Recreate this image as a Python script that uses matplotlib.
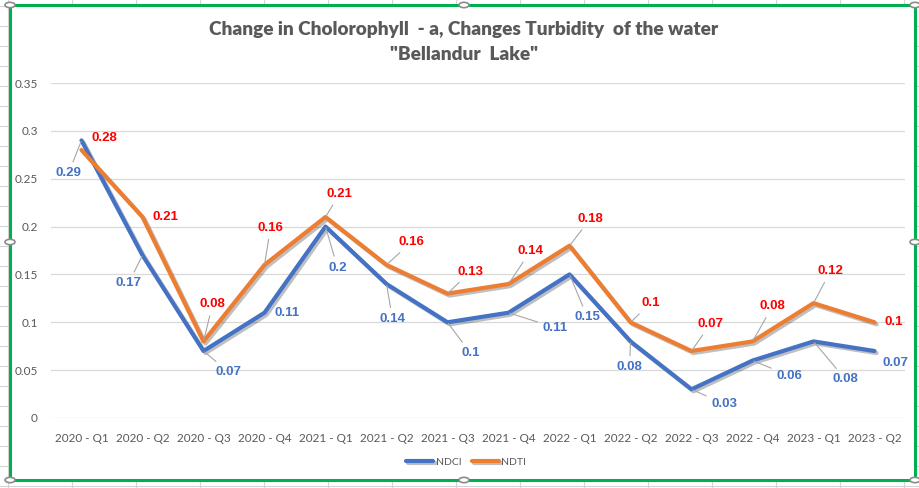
import matplotlib.pyplot as plt
import matplotlib.patheffects as pe
from matplotlib.patches import Rectangle, Circle

quarters = ['2020 - Q1', '2020 - Q2', '2020 - Q3', '2020 - Q4',
            '2021 - Q1', '2021 - Q2', '2021 - Q3', '2021 - Q4',
            '2022 - Q1', '2022 - Q2', '2022 - Q3', '2022 - Q4',
            '2023 - Q1', '2023 - Q2']
ndci = [0.29, 0.17, 0.07, 0.11, 0.2, 0.14, 0.1, 0.11, 0.15, 0.08, 0.03, 0.06, 0.08, 0.07]
ndti = [0.28, 0.21, 0.08, 0.16, 0.21, 0.16, 0.13, 0.14, 0.18, 0.1, 0.07, 0.08, 0.12, 0.1]
yticks = [0, 0.05, 0.1, 0.15, 0.2, 0.25, 0.3, 0.35]
title = 'Change in Cholorophyll  - a, Changes Turbidity  of the water\n"Bellandur  Lake"'

# label offsets in pixels (dx, dy), y up
ndci_off = [(-13, -33), (-14, -28), (25, -21), (23, 0), (12, -41), (6, -35),
            (23, -31), (47, -15), (18, -43), (-1, -26), (33, -15), (37, -15),
            (32, -38), (21, -12)]
ndti_off = [(23, 12), (23, 0), (9, 37), (6, 37), (14, 23), (25, 23),
            (23, 22), (22, 33), (21, 27), (20, 19), (19, 27), (20, 35),
            (17, 32), (19, 0)]

BLUE = '#4472C4'
ORANGE = '#ED7D31'
GRAY = '#595959'

plt.rcParams['font.family'] = ['Lato', 'DejaVu Sans']

fig = plt.figure(figsize=(9.19, 4.88), dpi=100)
W, H = 919, 488

# spreadsheet grid behind the chart
for x in range(8, W, 64):
    fig.add_artist(plt.Line2D([x / W, x / W], [0, 1], color='#D4D4D4', lw=0.8, zorder=0))
for y in range(6, H, 20):
    fig.add_artist(plt.Line2D([0, 1], [1 - y / H, 1 - y / H], color='#D4D4D4', lw=0.8, zorder=0))

fig.add_artist(Rectangle((10 / W, 1 - 480 / H), 905 / W, 475 / H,
                         facecolor='white', edgecolor='#00B050', lw=2.2,
                         transform=fig.transFigure, zorder=1))

ax = fig.add_axes([51 / W, 1 - 418 / H, 854 / W, 335 / H])
ax.set_zorder(2)
ax.patch.set_alpha(0)
x = list(range(len(quarters)))
shadow = [pe.SimpleLineShadow(offset=(1.5, -1.5), alpha=0.25, shadow_color='black'), pe.Normal()]
ax.plot(x, ndci, color=BLUE, lw=3, label='NDCI', solid_capstyle='round', path_effects=shadow, zorder=3)
ax.plot(x, ndti, color=ORANGE, lw=3, label='NDTI', solid_capstyle='round', path_effects=shadow, zorder=4)

for vals, offs, col in [(ndci, ndci_off, BLUE), (ndti, ndti_off, 'red')]:
    for i, (v, (dx, dy)) in enumerate(zip(vals, offs)):
        far = (dx * dx + dy * dy) ** 0.5 > 26
        ax.annotate(f'{v:g}', (i, v), xytext=(dx, dy), textcoords='offset pixels',
                    ha='center', va='center', color=col, fontsize=9.5,
                    fontweight='bold', family='Liberation Sans', zorder=6,
                    arrowprops=dict(arrowstyle='-', color='#A6A6A6', lw=0.8,
                                    shrinkA=2, shrinkB=1) if far else None)

ax.set_xlim(-0.5, len(quarters) - 0.5)
ax.set_ylim(0, 0.35)
ax.set_yticks(yticks)
ax.set_yticklabels([f'{t:g}' for t in yticks])
ax.set_xticks(x)
ax.set_xticklabels(quarters)
ax.grid(axis='y', color='#D9D9D9', lw=0.9)
ax.set_axisbelow(True)
for s in ax.spines.values():
    s.set_visible(False)
ax.tick_params(length=0, colors=GRAY, labelsize=8.5)
ax.tick_params(axis='x', pad=11)
ax.tick_params(axis='y', pad=9.5)

fig.text(464 / W, 1 - 42 / H, title, ha='center', va='center', fontsize=13.7,
         fontweight='heavy', color=GRAY, linespacing=1.6, zorder=5)

leg = fig.legend(loc='center', bbox_to_anchor=(466 / W, 1 - 462 / H), ncol=2,
                 frameon=False, handlelength=2.6, handletextpad=0.2,
                 columnspacing=1.0, labelcolor=GRAY, fontsize=7.5)
leg.set_zorder(5)

for hx, hy in [(10, 5), (464, 5), (915, 5), (10, 242), (915, 242),
               (10, 480), (464, 480), (915, 480)]:
    fig.add_artist(Circle((hx / W, 1 - hy / H), 5 / W, facecolor='white',
                          edgecolor='#8C8C8C', lw=1.2, transform=fig.transFigure,
                          zorder=7))

fig.savefig('out.png', dpi=100)
